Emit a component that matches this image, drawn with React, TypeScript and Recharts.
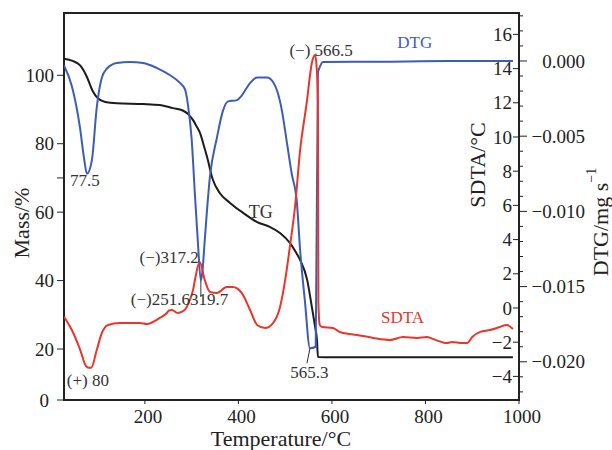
import React from 'react';
import { LineChart, Line, XAxis, YAxis, ReferenceArea, ReferenceDot, ReferenceLine } from 'recharts';

const FONT = "'Liberation Serif', 'DejaVu Serif', 'Times New Roman', serif";
const INK = '#222';
const TG_COLOR = '#1c1c1c';
const DTG_COLOR = '#3d5db5';
const SDTA_COLOR = '#e8362d';

// Temperature axis
const tempDomain = [27, 1000];
const tempTicks = [200, 400, 600, 800, 1000];

// Mass axis (reference draws the "0" label at the frame bottom)
const massDomain = [5.1, 118.2];
const massTicks = [5.1, 20, 40, 60, 70, 80, 100];

// SDTA axis
const sdtaDomain = [-5.38, 17.25];
const sdtaTicks = [-4, -2, 0, 2, 4, 6, 8, 10, 12, 14, 16];

// DTG axis
const dtgDomain = [-0.02254, 0.00319];
const dtgTicks = [-22, -21, -20, -19, -18, -17, -16, -15, -14, -13, -12, -11, -10, -9, -8, -7, -6, -5, -4, -3, -2, -1, 0, 1, 2, 3].map((i) => i / 1000);

// TG series
const tgTemp = [27, 45, 62, 76, 88, 100, 115, 140, 196, 232, 260, 281, 295, 303, 310, 318, 326, 333, 345, 360, 382, 410, 440, 467, 489, 510, 522, 532, 547, 557, 564, 568, 570, 600, 800, 987];
const tgMass = [104.8, 104.2, 102.8, 99.5, 95.5, 93.2, 92.2, 91.8, 91.6, 91.3, 90.4, 89.7, 88.3, 86.9, 85.2, 83.1, 79.5, 76.1, 69.6, 65.6, 62.7, 59.8, 57.1, 55.7, 53.9, 51.0, 48.5, 46.0, 40.2, 32.3, 26.4, 22.6, 17.7, 17.6, 17.6, 17.6];

// DTG series
const dtgTemp = [27, 44, 61, 70, 76, 86.6, 97, 108, 119, 140, 168, 196, 226, 253, 275, 286, 292, 300, 307, 313, 319.7, 323, 328, 339, 354, 367, 377, 397, 407, 424, 440, 461, 474, 484, 493, 504, 514, 525, 532, 542, 553, 565.3, 570, 574, 581, 700, 850, 987];
const dtgRate = [-0.0003, -0.0017, -0.0044, -0.0065, -0.0075, -0.0066, -0.0031, -0.0011, -0.0005, -0.00013, -0.00007, -0.00013, -0.00047, -0.00093, -0.00146, -0.0019, -0.0029, -0.0052, -0.0089, -0.0119, -0.0146, -0.014, -0.0119, -0.0077, -0.0051, -0.0033, -0.0027, -0.0026, -0.0023, -0.0015, -0.0011, -0.0011, -0.0014, -0.0021, -0.0033, -0.0055, -0.0075, -0.0094, -0.0126, -0.0159, -0.0191, -0.019, -0.0008, -0.0004, -0.00007, -0.00005, 0, 0];

// SDTA series
const sdtaTemp = [27, 44, 61, 74, 80, 85, 97, 108, 121, 146, 189, 204, 217, 232, 247, 251.6, 258, 270, 285, 296, 303, 307, 317.2, 328, 339, 354, 375, 388, 407, 425, 440, 457, 474, 489, 500, 510, 521, 532, 546, 557, 563.5, 567, 570, 571, 574, 579, 602, 617, 654, 688, 724, 752, 782, 803, 816, 846, 857, 878, 889, 900, 917, 938, 959, 974, 987];
const sdtaSignal = [-0.51, -1.3, -2.4, -3.4, -3.5, -3.5, -2.46, -1.46, -0.99, -0.88, -0.88, -0.94, -0.82, -0.58, -0.29, -0.15, -0.12, -0.29, -0.12, 0.47, 1.05, 1.64, 2.69, 1.64, 0.94, 0.88, 1.23, 1.23, 0.88, -0.12, -0.99, -1.17, -0.88, 0.06, 1.64, 3.57, 5.91, 9.24, 11.99, 14.33, 14.8, 14.2, 12.0, 0.3, -1.0, -1.11, -1.17, -1.4, -1.58, -1.75, -1.87, -1.7, -1.75, -1.7, -1.81, -2.05, -1.99, -2.05, -2.05, -1.7, -1.4, -1.29, -1.11, -0.99, -1.23];

const tgData = tgTemp.map((t, i) => ({ t, v: tgMass[i] }));
const dtgData = dtgTemp.map((t, i) => ({ t, v: dtgRate[i] }));
const sdtaData = sdtaTemp.map((t, i) => ({ t, v: sdtaSignal[i] }));

const minus = (s: string) => s.replace('-', '\u2212');

const XTick = (p: any) => (
  <text x={p.x + 3} y={p.y} dy="0.71em" textAnchor="middle" fontSize={19} fontFamily={FONT} fill={INK}>
    {p.payload.value}
  </text>
);

const MassTick = (p: any) => {
  const v = p.payload.value;
  if (v === 70) return <g />;
  const label = v === massDomain[0] ? '0' : String(v);
  return (
    <text x={v === massDomain[0] ? p.x - 5 : p.x} y={p.y} dy="0.35em" textAnchor="end" fontSize={19} fontFamily={FONT} fill={INK}>
      {label}
    </text>
  );
};

const SdtaTick = (p: any) => (
  <text x={p.x} y={p.y} dy="0.35em" textAnchor="end" fontSize={19} fontFamily={FONT} fill={INK}>
    {minus(String(p.payload.value))}
  </text>
);

const DtgTick = (p: any) => {
  const v = Number(p.payload.value);
  const k = Math.round(v * 1000);
  const major = Math.abs(k) % 5 === 0;
  return (
    <g>
      <line x1={p.x} y1={p.y} x2={p.x + (major ? 8 : 4)} y2={p.y} stroke={INK} strokeWidth={1} />
      {major && (
        <text x={585} y={p.y} dy="0.35em" textAnchor="end" fontSize={19} fontFamily={FONT} fill={INK}>
          {k === 0 ? '0.000' : '\u2212' + (Math.abs(k) / 1000).toFixed(3)}
        </text>
      )}
    </g>
  );
};

type NoteSpec = { axis: string; x: number; y: number; text: string; dx: number; dy: number; anchor: string; color: string; size: number };

const notes: NoteSpec[] = [
  { axis: 'dtg', x: 76, y: -0.0075, text: '77.5', dx: -17, dy: 12, anchor: 'start', color: '#333', size: 17 },
  { axis: 'sdta', x: 80, y: -3.5, text: '(+) 80', dx: -22, dy: 18, anchor: 'start', color: '#333', size: 17 },
  { axis: 'sdta', x: 317.2, y: 2.69, text: '(\u2212)317.2', dx: -1, dy: 1, anchor: 'end', color: '#333', size: 17 },
  { axis: 'dtg', x: 319.7, y: -0.0146, text: '(\u2212)251.6319.7', dx: -70, dy: 24, anchor: 'start', color: '#333', size: 17 },
  { axis: 'mass', x: 448, y: 56.8, text: 'TG', dx: 0, dy: -5, anchor: 'middle', color: '#333', size: 18 },
  { axis: 'sdta', x: 563.5, y: 14.8, text: '(\u2212) 566.5', dx: 38, dy: 1, anchor: 'end', color: '#333', size: 17 },
  { axis: 'dtg', x: 777, y: 0, text: 'DTG', dx: 0, dy: -13, anchor: 'middle', color: DTG_COLOR, size: 17 },
  { axis: 'sdta', x: 751, y: -1.7, text: 'SDTA', dx: 0, dy: -14, anchor: 'middle', color: SDTA_COLOR, size: 17 },
  { axis: 'dtg', x: 553, y: -0.0191, text: '565.3', dx: -0.5, dy: 30, anchor: 'middle', color: '#333', size: 17 },
];

const Titles = (p: any) => {
  const vb = p.viewBox || { x: 0, y: 0 };
  const ox = vb.x;
  const oy = vb.y;
  const mx = ox - 43, my = oy - 177;
  const sx = ox + 413, sy = oy - 235;
  const dx = ox + 536, dy = oy - 178;
  return (
    <g fontFamily={FONT} fill={INK} fontSize={22}>
      <text x={mx} y={my} transform={`rotate(-90 ${mx} ${my})`} textAnchor="middle" dominantBaseline="central">Mass/%</text>
      <text x={ox + 217} y={oy + 46} textAnchor="middle">Temperature/°C</text>
      <text x={sx} y={sy} transform={`rotate(-90 ${sx} ${sy})`} textAnchor="middle" dominantBaseline="central">SDTA/°C</text>
      <text x={dx} y={dy} transform={`rotate(-90 ${dx} ${dy})`} textAnchor="middle" dominantBaseline="central">
        DTG/mg s<tspan dy={-9} fontSize={14}>{'\u22121'}</tspan>
      </text>
    </g>
  );
};

export default function App() {
  return (
    <div style={{ position: 'absolute', left: 0, top: 0, width: 612, height: 450, background: '#fff' }}>
      <LineChart width={612} height={450} margin={{ top: 13, right: 0, bottom: 0, left: 0 }}>
        <XAxis
          dataKey="t"
          type="number"
          domain={tempDomain}
          ticks={tempTicks}
          interval={0}
          allowDataOverflow
          height={50}
          axisLine={false}
          tickSize={4}
          tickMargin={6}
          tickLine={{ stroke: INK }}
          tick={XTick}
        />
        <YAxis
          yAxisId="mass"
          orientation="left"
          type="number"
          domain={massDomain}
          ticks={massTicks}
          interval={0}
          allowDataOverflow
          width={64}
          axisLine={false}
          tickSize={7}
          tickMargin={3}
          tickLine={{ stroke: INK }}
          tick={MassTick}
        />
        <YAxis
          yAxisId="sdta"
          orientation="right"
          mirror
          type="number"
          domain={sdtaDomain}
          ticks={sdtaTicks}
          interval={0}
          allowDataOverflow
          width={40}
          axisLine={false}
          tickSize={6}
          tickMargin={1}
          tickLine={{ stroke: INK }}
          tick={SdtaTick}
        />
        <YAxis
          yAxisId="dtg"
          orientation="right"
          type="number"
          domain={dtgDomain}
          ticks={dtgTicks}
          interval={0}
          allowDataOverflow
          width={93}
          axisLine={false}
          tickSize={0}
          tickMargin={0}
          tickLine={false}
          tick={DtgTick}
        />
        <Line yAxisId="mass" data={tgData} dataKey="v" type="monotone" stroke={TG_COLOR} strokeWidth={2} dot={false} activeDot={false} isAnimationActive={false} />
        <Line yAxisId="dtg" data={dtgData} dataKey="v" type="monotone" stroke={DTG_COLOR} strokeWidth={2} dot={false} activeDot={false} isAnimationActive={false} />
        <Line yAxisId="sdta" data={sdtaData} dataKey="v" type="monotone" stroke={SDTA_COLOR} strokeWidth={2} dot={false} activeDot={false} isAnimationActive={false} />
        <ReferenceArea yAxisId="mass" x1={tempDomain[0]} x2={tempDomain[1]} y1={massDomain[0]} y2={massDomain[1]} fill="none" fillOpacity={0} stroke={INK} strokeWidth={2} ifOverflow="visible" />
        <ReferenceLine yAxisId="dtg" segment={[{ x: 319.7, y: -0.0146 }, { x: 319.7, y: -0.0157 }]} stroke="#333" strokeWidth={1} ifOverflow="visible" />
        <ReferenceLine yAxisId="dtg" segment={[{ x: 553, y: -0.0191 }, { x: 546.5, y: -0.0201 }]} stroke="#333" strokeWidth={1} ifOverflow="visible" />
        {notes.map((n, i) => (
          <ReferenceDot
            key={'n' + i}
            yAxisId={n.axis}
            x={n.x}
            y={n.y}
            r={0}
            fill="none"
            stroke="none"
            ifOverflow="visible"
            label={(p: any) => {
              const vb = p.viewBox || { x: 0, y: 0 };
              return (
                <text x={vb.x + n.dx} y={vb.y + n.dy} textAnchor={n.anchor} fontSize={n.size} fontFamily={FONT} fill={n.color}>
                  {n.text}
                </text>
              );
            }}
          />
        ))}
        <ReferenceDot yAxisId="mass" x={tempDomain[0]} y={massDomain[0]} r={0} fill="none" stroke="none" ifOverflow="visible" label={Titles} />
      </LineChart>
    </div>
  );
}
